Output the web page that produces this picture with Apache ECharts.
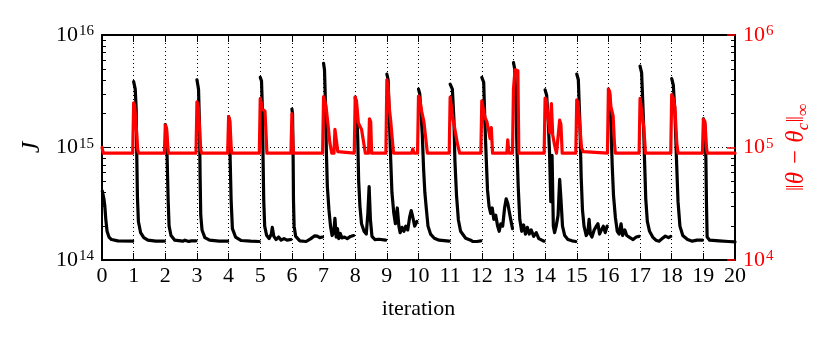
<!DOCTYPE html>
<html>
<head>
<meta charset="utf-8">
<script src="https://cdn.jsdelivr.net/npm/echarts@6/dist/echarts.min.js"></script>
<style>
  html, body { margin: 0; padding: 0; background: #fff; }
  #chart { width: 830px; height: 346px; }
</style>
</head>
<body>
<div id="chart"></div>
<script>
// cost J per inner step, one run per outer iteration: [iteration, J]
const costRuns = [
  [[0.01,4.1e14],[0.06,3.5e14],[0.09,3.0e14],[0.12,2.3e14],[0.16,1.8e14],[0.22,1.6e14],[0.3,1.52e14],[0.5,1.48e14],[0.97,1.47e14]],
  [[1.0,3.85e15],[1.05,3.3e15],[1.08,2.2e15],[1.1,8e14],[1.12,3.6e14],[1.15,2.2e14],[1.22,1.75e14],[1.32,1.58e14],[1.45,1.5e14],[1.7,1.47e14],[1.97,1.47e14]],
  [[2.0,1.6e15],[2.04,1.4e15],[2.06,7.7e14],[2.09,3.4e14],[2.12,2.0e14],[2.18,1.65e14],[2.3,1.5e14],[2.55,1.47e14],[2.62,1.5e14],[2.68,1.52e14],[2.74,1.46e14],[2.82,1.48e14],[2.97,1.48e14]],
  [[3.0,4.0e15],[3.05,3.3e15],[3.08,1.6e15],[3.1,5.5e14],[3.12,2.5e14],[3.16,1.85e14],[3.25,1.58e14],[3.4,1.5e14],[3.7,1.47e14],[3.97,1.47e14]],
  [[4.0,1.88e15],[4.03,1.7e15],[4.05,7.7e14],[4.08,3.4e14],[4.12,1.9e14],[4.22,1.6e14],[4.4,1.49e14],[4.7,1.47e14],[4.97,1.46e14]],
  [[5.0,4.2e15],[5.04,3.9e15],[5.07,2.1e15],[5.09,7.7e14],[5.11,3.4e14],[5.14,2.0e14],[5.2,1.66e14],[5.28,1.55e14],[5.35,1.7e14],[5.38,1.95e14],[5.43,1.62e14],[5.5,1.52e14],[5.58,1.6e14],[5.66,1.5e14],[5.75,1.55e14],[5.85,1.5e14],[5.97,1.52e14]],
  [[6.0,2.2e15],[6.02,2.0e15],[6.04,7.7e14],[6.05,3.4e14],[6.07,2.0e14],[6.12,1.62e14],[6.25,1.48e14],[6.45,1.46e14],[6.6,1.55e14],[6.72,1.64e14],[6.8,1.63e14],[6.88,1.58e14],[6.97,1.6e14]],
  [[7.0,5.6e15],[7.03,4.9e15],[7.06,2.5e15],[7.09,9e14],[7.12,4.5e14],[7.17,2.8e14],[7.22,2.0e14],[7.27,1.65e14],[7.32,1.75e14],[7.36,2.35e14],[7.4,1.6e14],[7.44,1.9e14],[7.48,1.55e14],[7.53,1.72e14],[7.58,1.57e14],[7.66,1.6e14],[7.75,1.55e14],[7.85,1.62e14],[7.95,1.65e14]],
  [[8.0,2.8e15],[8.04,2.3e15],[8.08,1.2e15],[8.11,5e14],[8.15,3e14],[8.2,2.1e14],[8.28,1.8e14],[8.35,1.7e14],[8.4,2.6e14],[8.44,4.5e14],[8.48,2.3e14],[8.53,1.62e14],[8.62,1.52e14],[8.75,1.53e14],[8.96,1.5e14]],
  [[9.0,4.5e15],[9.04,4.0e15],[9.08,1.8e15],[9.12,8e14],[9.16,4e14],[9.22,2.6e14],[9.27,2.1e14],[9.33,2.9e14],[9.38,2.0e14],[9.42,1.75e14],[9.48,1.95e14],[9.54,1.8e14],[9.6,2.0e14],[9.66,1.85e14],[9.72,2.4e14],[9.77,2.75e14],[9.82,2.4e14],[9.88,2.0e14],[9.95,2.2e14]],
  [[10.0,3.3e15],[10.04,3.0e15],[10.08,2.0e15],[10.12,1.3e15],[10.16,6.5e14],[10.2,4e14],[10.25,2.8e14],[10.3,2.0e14],[10.38,1.7e14],[10.5,1.56e14],[10.65,1.5e14],[10.97,1.47e14]],
  [[11.0,3.66e15],[11.07,3.3e15],[11.12,1.75e15],[11.15,7.7e14],[11.2,3.8e14],[11.26,2.27e14],[11.33,1.8e14],[11.49,1.56e14],[11.65,1.5e14],[11.72,1.46e14],[11.78,1.52e14],[11.85,1.46e14],[11.9,1.51e14],[11.97,1.48e14]],
  [[12.0,4.2e15],[12.06,3.8e15],[12.1,1.6e15],[12.14,8e14],[12.18,4.2e14],[12.23,3.0e14],[12.28,2.6e14],[12.33,2.9e14],[12.38,2.3e14],[12.44,2.5e14],[12.5,2.0e14],[12.55,1.8e14],[12.6,2.1e14],[12.66,2.0e14],[12.72,2.9e14],[12.77,3.5e14],[12.82,3.2e14],[12.9,2.4e14],[12.97,1.9e14]],
  [[13.0,5.7e15],[13.04,5.0e15],[13.08,2.5e15],[13.11,1.0e15],[13.15,4.5e14],[13.2,2.3e14],[13.26,1.8e14],[13.32,2.05e14],[13.38,1.7e14],[13.44,1.95e14],[13.5,1.7e14],[13.56,1.85e14],[13.64,1.62e14],[13.72,1.75e14],[13.8,1.55e14],[13.9,1.5e14],[13.97,1.47e14]],
  [[14.0,3.25e15],[14.05,2.9e15],[14.1,1.7e15],[14.14,9e14],[14.18,3.3e14],[14.22,8.5e14],[14.26,2.0e14],[14.3,1.75e14],[14.35,2.0e14],[14.41,2.5e14],[14.46,5.2e14],[14.5,3.5e14],[14.55,2.0e14],[14.62,1.65e14],[14.72,1.52e14],[14.85,1.48e14],[14.97,1.46e14]],
  [[15.0,4.5e15],[15.05,4.0e15],[15.1,1.6e15],[15.14,5.5e14],[15.18,2.8e14],[15.23,2.0e14],[15.3,1.65e14],[15.35,1.75e14],[15.39,2.3e14],[15.43,1.7e14],[15.48,1.6e14],[15.55,1.85e14],[15.62,2.0e14],[15.67,2.1e14],[15.72,1.7e14],[15.78,1.85e14],[15.84,2.0e14],[15.9,1.75e14],[15.96,2.0e14]],
  [[16.0,3.3e15],[16.04,3.0e15],[16.08,1.6e15],[16.12,7e14],[16.16,3.8e14],[16.22,2.4e14],[16.28,1.8e14],[16.34,1.7e14],[16.4,2.1e14],[16.45,1.65e14],[16.52,1.85e14],[16.58,1.65e14],[16.68,1.58e14],[16.78,1.52e14],[16.88,1.6e14],[16.97,1.62e14]],
  [[17.0,5.3e15],[17.05,4.6e15],[17.1,2.0e15],[17.14,8e14],[17.18,3.5e14],[17.23,2.2e14],[17.3,1.8e14],[17.4,1.6e14],[17.5,1.5e14],[17.6,1.47e14],[17.7,1.55e14],[17.8,1.63e14],[17.9,1.58e14],[17.97,1.62e14]],
  [[18.0,4.1e15],[18.05,3.6e15],[18.1,2.1e15],[18.15,8e14],[18.2,3.3e14],[18.26,2.0e14],[18.35,1.65e14],[18.5,1.52e14],[18.65,1.47e14],[18.8,1.5e14],[18.97,1.5e14]],
  [[19.0,1.8e15],[19.05,1.6e15],[19.08,8e14],[19.1,3e14],[19.12,1.6e14],[19.2,1.5e14],[19.5,1.48e14],[19.8,1.46e14],[20.0,1.45e14]]
]

// ||theta - theta_c||_inf per inner step: [iteration, norm]
const thetaRuns = [
  [[0.0,1.0e5],[0.04,8.9e4],[0.97,8.9e4]],
  [[1.0,2.5e5],[1.03,2.39e5],[1.08,1.55e5],[1.13,9.5e4],[1.16,8.9e4],[1.97,8.9e4]],
  [[2.0,1.58e5],[2.04,1.48e5],[2.08,1.02e5],[2.1,8.9e4],[2.97,8.9e4]],
  [[3.0,2.55e5],[3.04,2.3e5],[3.08,1.53e5],[3.12,9.5e4],[3.15,8.9e4],[3.97,8.9e4]],
  [[4.0,1.88e5],[4.04,1.74e5],[4.08,1.02e5],[4.1,8.9e4],[4.97,8.9e4]],
  [[5.0,2.73e5],[5.03,2.5e5],[5.06,2.2e5],[5.15,2.1e5],[5.19,1.2e5],[5.21,8.9e4],[5.97,8.9e4]],
  [[6.0,2.0e5],[6.02,1.97e5],[6.04,9.5e4],[6.05,8.9e4],[6.97,8.9e4]],
  [[7.0,2.83e5],[7.04,2.6e5],[7.08,2.3e5],[7.14,1.6e5],[7.2,1.1e5],[7.26,8.9e4],[7.33,8.9e4],[7.36,1.45e5],[7.41,1.4e5],[7.45,9.2e4],[7.48,8.9e4],[7.97,8.9e4]],
  [[8.0,2.8e5],[8.04,2.6e5],[8.1,1.65e5],[8.2,1.45e5],[8.28,1.05e5],[8.32,8.9e4],[8.42,8.9e4],[8.45,1.8e5],[8.49,1.7e5],[8.52,8.9e4],[8.97,8.9e4]],
  [[9.0,4.0e5],[9.04,3.4e5],[9.08,2.2e5],[9.12,1.75e5],[9.17,1.2e5],[9.21,8.9e4],[9.78,8.9e4],[9.82,9.7e4],[9.86,8.9e4],[9.97,8.9e4]],
  [[10.0,2.87e5],[10.04,2.7e5],[10.1,2.1e5],[10.17,1.7e5],[10.23,1.2e5],[10.28,8.9e4],[10.97,8.9e4]],
  [[11.0,2.8e5],[11.04,2.7e5],[11.08,1.85e5],[11.15,1.45e5],[11.23,1.08e5],[11.3,8.9e4],[11.97,8.9e4]],
  [[12.0,2.6e5],[12.04,2.5e5],[12.1,1.85e5],[12.16,1.7e5],[12.22,1.4e5],[12.26,1.2e5],[12.3,1.5e5],[12.34,8.9e4],[12.79,8.9e4],[12.82,1.17e5],[12.86,8.9e4],[12.97,8.9e4]],
  [[13.0,3.3e5],[13.05,4.9e5],[13.14,4.8e5],[13.17,8.9e4],[13.97,8.9e4]],
  [[14.0,2.75e5],[14.04,2.6e5],[14.1,1.8e5],[14.15,1.35e5],[14.2,2.45e5],[14.24,1.3e5],[14.3,1.05e5],[14.36,8.9e4],[14.42,8.9e4],[14.46,1.75e5],[14.5,1.6e5],[14.54,8.9e4],[14.97,8.9e4]],
  [[15.0,2.65e5],[15.04,2.5e5],[15.1,1.5e5],[15.15,1.0e5],[15.2,9.2e4],[15.23,8.9e4],[15.97,8.9e4]],
  [[16.0,3.3e5],[16.04,3.15e5],[16.08,2.3e5],[16.15,1.9e5],[16.19,1.1e5],[16.22,8.9e4],[16.97,8.9e4]],
  [[17.0,2.73e5],[17.06,2.65e5],[17.12,1.5e5],[17.17,8.9e4],[17.97,8.9e4]],
  [[18.0,2.95e5],[18.05,2.75e5],[18.1,2.3e5],[18.16,1.1e5],[18.2,8.9e4],[18.97,8.9e4]],
  [[19.0,1.78e5],[19.05,1.7e5],[19.1,1.0e5],[19.12,8.9e4],[20.0,8.9e4]]
]

const costTicks = [1e14, 1e15, 1e16]
const thetaTicks = [1e4, 1e5, 1e6]

const serif = "'Liberation Serif', 'DejaVu Serif', serif"
const red = '#ff0000'

// minor log ticks 2..9 inside each decade
function minorTicks(majors) {
  const out = []
  for (let i = 0; i < majors.length - 1; i++) {
    for (let k = 2; k <= 9; k++) out.push(majors[i] * k)
  }
  return out
}

// join runs; broken ones get an empty point between them
function joinRuns(runs, broken) {
  const out = []
  runs.forEach((run, i) => {
    if (broken && i > 0) out.push([run[0][0], '-'])
    run.forEach(p => out.push(p))
  })
  return out
}

function powLabel(v) {
  return '{b|10}{e|' + Math.round(Math.log10(v)) + '}'
}

function labelRich(color) {
  return {
    b: { fontSize: 22, fontFamily: serif, color: color },
    e: { fontSize: 15, fontFamily: serif, color: color, verticalAlign: 'top', padding: [0, 0, 0, 1] }
  }
}

const chart = echarts.init(document.getElementById('chart'))
chart.setOption({
  animation: false,
  grid: { left: 102, right: 95, top: 35, bottom: 86 },
  xAxis: [{
    type: 'value',
    min: 0,
    max: 20,
    interval: 1,
    name: 'iteration',
    nameLocation: 'middle',
    nameGap: 38,
    nameTextStyle: { fontSize: 22, fontFamily: serif, color: '#000' },
    axisLine: { onZero: false, lineStyle: { color: '#000', width: 2 } },
    axisTick: { inside: true, length: 7, lineStyle: { color: '#000' } },
    axisLabel: { fontSize: 22, fontFamily: serif, color: '#000', margin: 5, interval: 0, showMinLabel: true, showMaxLabel: true },
    splitLine: { show: true, lineStyle: { color: '#000', type: [1, 3], width: 1 } }
  }, {
    type: 'value',
    position: 'top',
    min: 0,
    max: 20,
    interval: 1,
    axisLine: { onZero: false, lineStyle: { color: '#000', width: 2 } },
    axisTick: { inside: true, length: 7, lineStyle: { color: '#000' } },
    axisLabel: { show: false },
    splitLine: { show: false }
  }],
  yAxis: [{
    type: 'log',
    position: 'left',
    min: costTicks[0],
    max: costTicks[costTicks.length - 1],
    name: 'J',
    nameLocation: 'middle',
    nameRotate: 90,
    nameGap: 53,
    nameTextStyle: { fontSize: 26, fontFamily: serif, fontStyle: 'italic', color: '#000' },
    axisLine: { onZero: false, lineStyle: { color: '#000', width: 2 } },
    axisTick: { inside: true, length: 8, lineStyle: { color: '#000' } },
    axisLabel: { margin: 8, formatter: powLabel, rich: labelRich('#000') },
    splitLine: { show: true, lineStyle: { color: '#000', type: [1, 3], width: 1 } }
  }, {
    type: 'log',
    position: 'right',
    min: thetaTicks[0],
    max: thetaTicks[thetaTicks.length - 1],
    name: '{t|‖θ − θ}{s|c}{t|‖}{s|∞}',
    nameLocation: 'middle',
    nameRotate: 90,
    nameGap: 42,
    nameTextStyle: {
      rich: {
        t: { fontSize: 25, fontFamily: serif, fontStyle: 'italic', color: red, lineHeight: 30, verticalAlign: 'middle' },
        s: { fontSize: 17, fontFamily: serif, fontStyle: 'italic', color: red, verticalAlign: 'bottom' }
      }
    },
    axisLine: { onZero: false, lineStyle: { color: '#000', width: 2 } },
    axisTick: { inside: true, length: 8, lineStyle: { color: red, width: 1.5 } },
    axisLabel: { margin: 8, formatter: powLabel, rich: labelRich(red) },
    splitLine: { show: false }
  }, {
    type: 'log',
    position: 'left',
    min: costTicks[0],
    max: costTicks[costTicks.length - 1],
    axisLine: { show: false, onZero: false },
    axisTick: { inside: true, length: 4, customValues: minorTicks(costTicks), lineStyle: { color: '#000' } },
    axisLabel: { show: false },
    splitLine: { show: false }
  }, {
    type: 'log',
    position: 'right',
    min: costTicks[0],
    max: costTicks[costTicks.length - 1],
    axisLine: { show: false, onZero: false },
    axisTick: { inside: true, length: 4, customValues: minorTicks(costTicks), lineStyle: { color: '#000' } },
    axisLabel: { show: false },
    splitLine: { show: false }
  }],
  series: [{
    name: 'J',
    type: 'line',
    yAxisIndex: 0,
    showSymbol: false,
    connectNulls: false,
    data: joinRuns(costRuns, true),
    lineStyle: { color: '#000', width: 3.2, cap: 'round', join: 'round' },
    itemStyle: { color: '#000' }
  }, {
    name: 'theta',
    type: 'line',
    yAxisIndex: 1,
    showSymbol: false,
    data: joinRuns(thetaRuns, false),
    lineStyle: { color: red, width: 3.2, cap: 'round', join: 'round' },
    itemStyle: { color: red }
  }]
})
</script>
</body>
</html>
